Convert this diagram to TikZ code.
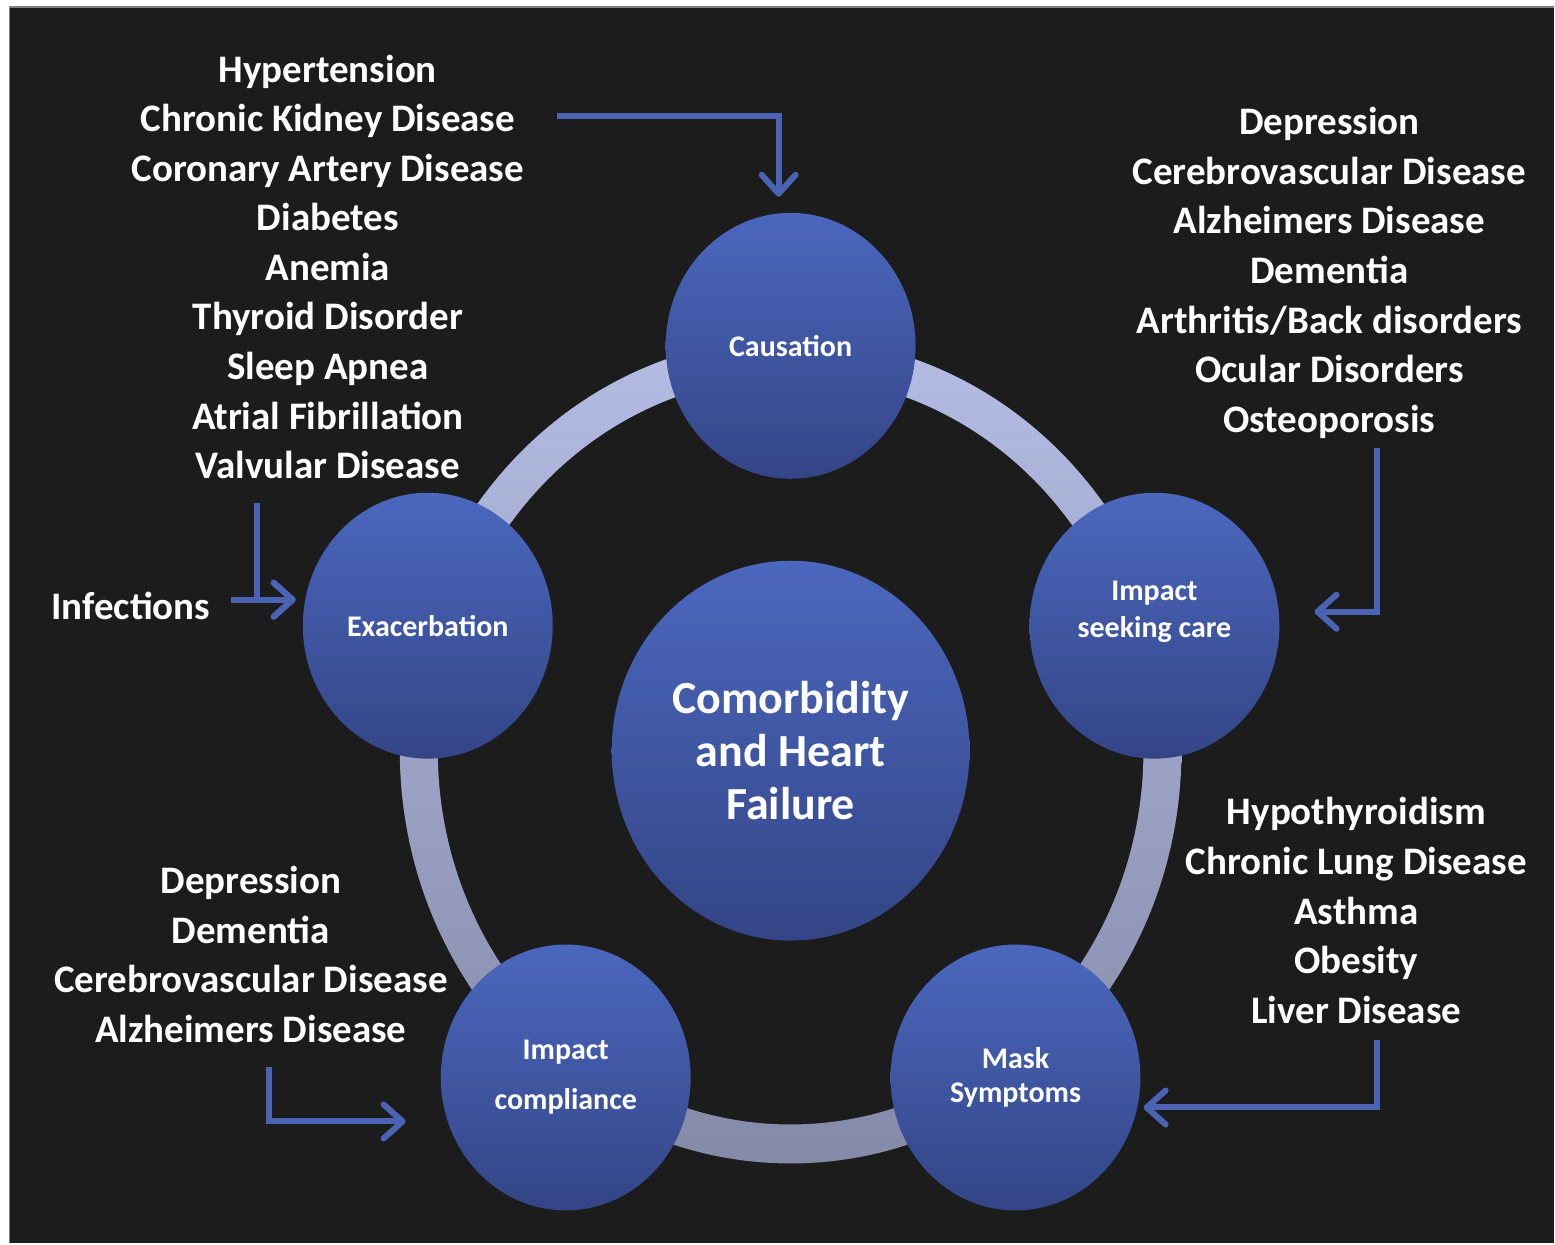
\documentclass[tikz,border=0pt]{standalone}
\usepackage{fontspec}
\setmainfont{Carlito}
\usepackage{tikz}
\usetikzlibrary{arrows.meta, shapes.geometric}
\definecolor{bgdark}{RGB}{28,28,28}
\definecolor{circtop}{RGB}{75,103,190}
\definecolor{circbot}{RGB}{51,69,134}
\definecolor{ringtop}{RGB}{180,188,228}
\definecolor{ringbot}{RGB}{132,138,168}
\definecolor{arrblue}{RGB}{74,99,180}
\tikzset{
  bubble/.style={ellipse, minimum width=250pt, minimum height=266pt, inner sep=0pt,
    top color=circtop, bottom color=circbot, text=white, align=center,
    font=\bfseries\fontsize{30}{37}\selectfont},
  hub/.style={bubble, minimum width=358pt, minimum height=380pt,
    font=\bfseries\fontsize{46}{53}\selectfont},
  listtext/.style={text=white, align=center, inner sep=0pt,
    font=\bfseries\fontsize{39}{49.6}\selectfont},
  arr/.style={draw=arrblue, line width=6pt,
    -{Straight Barb[length=19pt, width=34pt, round]}}
}

\begin{document}
\begin{tikzpicture}[x=1pt, y=-1pt]
  \fill[white] (0,0) rectangle (1555,1244);
  \fill[bgdark] (9.5,7) rectangle (1555,1244);
  \draw[gray, line width=1.5pt] (9.5,1244) -- (9.5,7) -- (1555,7);
  % ring behind the circles
  \coordinate (mid) at (791,751);
  \shade[top color=ringtop, bottom color=ringbot, even odd rule]
    (mid) ellipse [x radius=391, y radius=413]
    (mid) ellipse [x radius=353, y radius=374];
  \node[hub] (hf) at (mid) {Comorbidity\\and Heart\\Failure};
  \node[bubble] (caus) at (791,346) {Causation};
  \node[bubble] (seek) at (1155,626) {\raisebox{14pt}[\height][\depth]{\begin{tabular}{@{}c@{}}Impact\\seeking care\end{tabular}}};
  \node[bubble] (mask) at (1016,1078) {Mask\\[-3pt]Symptoms};
  \node[bubble] (comp) at (566,1078) {Impact\\[13pt]compliance};
  \node[bubble] (exac) at (428,626) {Exacerbation};
  % comorbidity lists
  \node[listtext] (lt) at (328,267) {Hypertension\\Chronic Kidney Disease\\Coronary Artery Disease\\Diabetes\\Anemia\\Thyroid Disorder\\Sleep Apnea\\Atrial Fibrillation\\Valvular Disease};
  \node[listtext] (rt) at (1330,273) {Depression\\Cerebrovascular Disease\\Alzheimers Disease\\Dementia\\Arthritis/Back disorders\\Ocular Disorders\\Osteoporosis};
  \node[listtext] (rb) at (1357,911) {Hypothyroidism\\Chronic Lung Disease\\Asthma\\Obesity\\Liver Disease};
  \node[listtext] (lb) at (251,955) {Depression\\Dementia\\Cerebrovascular Disease\\Alzheimers Disease};
  \node[listtext] (inf) at (131,606) {Infections};
  % arrows
  \coordinate (s1) at (557,116);
  \coordinate (s2) at (1378,448);
  \coordinate (s3) at (1378,1040);
  \coordinate (s4) at (269,1068);
  \coordinate (s5) at (257,503);
  \draw[arr] (s1) -| ([xshift=-12pt, yshift=16pt]caus.north);
  \draw[arr] (s2) |- ([xshift=35pt, yshift=14pt]seek.east);
  \draw[arr] (s3) |- ([xshift=3pt, yshift=-30pt]mask.east);
  \draw[arr] (s4) |- ([xshift=-35pt, yshift=-44pt]comp.west);
  \draw[arr] (s5) |- ([xshift=-7pt, yshift=26pt]exac.west);
  \draw[arr] ([xshift=20pt, yshift=6pt]inf.east) -- ([xshift=-7pt, yshift=26pt]exac.west);
\end{tikzpicture}
\end{document}
